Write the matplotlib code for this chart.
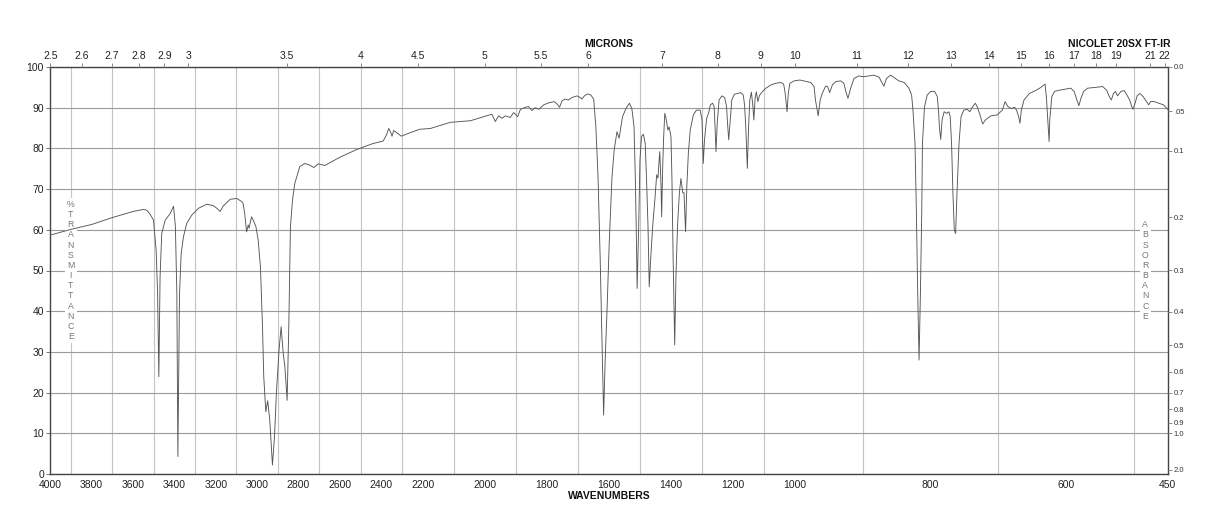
import numpy as np
import matplotlib
matplotlib.use("Agg")
import matplotlib.pyplot as plt

plt.rcParams['font.family'] = ['Liberation Sans', 'DejaVu Sans']

# ---- spectrum data (wavenumber cm-1, %T) ----
wavenumber = [
    4000, 3900, 3800, 3700, 3600, 3550, 3533, 3517, 3501, 3488, 3481, 3475, 3469, 3461, 3444,
    3420, 3404, 3395, 3388, 3383, 3375, 3367, 3356, 3340, 3316, 3283, 3243, 3211, 3195, 3179,
    3163, 3130, 3098, 3074, 3068, 3060, 3051, 3043, 3039, 3027, 3019, 3006, 2995, 2984, 2974,
    2968, 2958, 2949, 2939, 2926, 2916, 2907, 2894, 2884, 2874, 2866, 2855, 2847, 2839, 2829,
    2818, 2794, 2770, 2746, 2726, 2705, 2673, 2601, 2520, 2440, 2391, 2375, 2364, 2356, 2348,
    2340, 2327, 2303, 2279, 2214, 2175, 2111, 2046, 2003, 1977, 1966, 1955, 1944, 1934, 1918,
    1907, 1894, 1885, 1869, 1859, 1848, 1837, 1826, 1810, 1794, 1776, 1767, 1759, 1751, 1741,
    1730, 1719, 1703, 1692, 1687, 1679, 1669, 1658, 1649, 1642, 1635, 1628, 1621, 1617, 1612,
    1606, 1599, 1590, 1583, 1574, 1567, 1563, 1556, 1545, 1534, 1526, 1519, 1515, 1512, 1509,
    1504, 1500, 1495, 1489, 1483, 1479, 1474, 1470, 1465, 1459, 1452, 1446, 1442, 1439, 1436,
    1432, 1430, 1427, 1424, 1420, 1416, 1410, 1406, 1400, 1397, 1393, 1388, 1384, 1379, 1373,
    1368, 1362, 1358, 1353, 1349, 1344, 1338, 1328, 1318, 1306, 1300, 1296, 1292, 1285, 1279,
    1273, 1266, 1261, 1258, 1255, 1251, 1245, 1236, 1227, 1221, 1217, 1214, 1209, 1204, 1196,
    1186, 1175, 1167, 1163, 1159, 1154, 1150, 1146, 1141, 1137, 1133, 1129, 1125, 1120, 1115,
    1105, 1094, 1078, 1062, 1046, 1037, 1032, 1026, 1022, 1017, 1003, 993, 977, 972, 970,
    966, 963, 960, 955, 952, 949, 945, 940, 933, 928, 925, 922, 918, 913, 906,
    899, 891, 884, 876, 872, 869, 865, 859, 852, 847, 839, 832, 828, 826, 823,
    821, 819, 817, 815, 813, 812, 809, 805, 800, 794, 790, 788, 787, 785, 783,
    780, 776, 773, 771, 769, 767, 765, 763, 761, 758, 755, 751, 746, 742, 738,
    734, 731, 727, 723, 719, 711, 702, 694, 690, 686, 681, 676, 673, 670, 668,
    666, 662, 654, 644, 637, 631, 629, 627, 625, 624, 621, 617, 610, 600, 593,
    588, 584, 581, 578, 574, 568, 556, 546, 540, 536, 533, 530, 527, 524, 519,
    514, 510, 506, 503, 501, 498, 495, 491, 486, 481, 478, 475, 470, 463, 456,
    451, 450,
]
transmittance = [
    58.7, 60.1, 61.3, 63.0, 64.5, 65.0, 64.8, 63.8, 62.4, 55.0, 44.4, 23.9, 48.5, 59.1, 62.4,
    64.0, 65.8, 60.8, 44.4, 4.3, 44.4, 54.2, 58.3, 61.6, 63.6, 65.3, 66.3, 65.9, 65.3, 64.5,
    65.9, 67.5, 67.7, 66.9, 66.5, 64.0, 59.5, 61.2, 60.4, 63.2, 62.4, 60.8, 57.5, 50.9, 36.2,
    23.9, 15.3, 18.0, 13.3, 2.2, 9.2, 19.8, 30.5, 36.2, 29.7, 26.4, 18.1, 36.2, 60.8, 67.3,
    71.4, 75.5, 76.3, 75.9, 75.3, 76.2, 75.8, 77.8, 79.7, 81.2, 81.8, 83.3, 84.9, 84.1, 83.0,
    84.4, 83.9, 83.0, 83.5, 84.7, 84.9, 86.4, 86.8, 87.8, 88.4, 86.6, 88.0, 87.4, 88.0, 87.6,
    88.8, 87.8, 89.6, 90.1, 90.3, 89.3, 90.0, 89.6, 90.7, 91.2, 91.5, 90.9, 90.1, 91.7, 92.1,
    91.9, 92.5, 92.9, 92.5, 92.1, 92.9, 93.4, 93.1, 92.1, 85.3, 73.0, 52.6, 28.0, 14.5, 28.0,
    40.3, 56.7, 73.0, 79.6, 84.1, 82.5, 84.5, 87.8, 89.8, 91.1, 89.8, 85.3, 73.0, 60.8, 45.6,
    60.8, 77.1, 82.9, 83.5, 81.2, 73.0, 60.8, 46.0, 53.4, 60.8, 67.3, 73.5, 72.7, 76.3, 79.2,
    70.6, 63.2, 74.6, 82.1, 88.6, 87.4, 84.5, 85.3, 82.9, 73.0, 52.6, 31.7, 48.5, 60.8, 69.0,
    72.6, 69.1, 69.1, 59.5, 70.6, 78.8, 84.5, 88.2, 89.4, 89.4, 87.0, 76.3, 82.1, 87.4, 88.6,
    90.7, 91.1, 90.3, 85.3, 79.2, 86.2, 91.9, 92.9, 92.5, 90.3, 85.3, 82.1, 87.0, 91.9, 93.3,
    93.5, 93.7, 93.1, 90.7, 85.3, 75.1, 85.3, 91.9, 93.8, 91.1, 87.0, 92.3, 93.9, 91.5, 93.0,
    94.0, 94.8, 95.6, 96.0, 96.2, 95.8, 93.5, 89.0, 93.5, 96.0, 96.6, 96.8, 96.2, 95.2, 91.9,
    88.0, 91.9, 93.5, 95.3, 95.2, 93.7, 95.6, 96.4, 96.6, 96.0, 93.9, 92.3, 94.8, 97.2, 97.8,
    97.6, 97.8, 98.0, 97.5, 96.2, 95.3, 97.2, 98.0, 97.2, 96.6, 96.2, 94.8, 93.1, 89.4, 81.2,
    64.9, 44.4, 28.0, 44.4, 64.9, 81.2, 90.2, 93.1, 94.0, 94.0, 92.7, 88.6, 85.3, 82.2, 87.0,
    89.0, 88.6, 89.0, 87.8, 81.2, 69.0, 60.0, 59.1, 69.0, 81.2, 87.8, 89.4, 89.6, 89.0, 90.2,
    91.1, 90.2, 88.2, 86.0, 87.0, 88.0, 88.2, 89.4, 91.5, 90.3, 89.8, 90.1, 89.4, 87.8, 86.2,
    89.4, 91.9, 93.5, 94.3, 95.0, 95.8, 92.7, 87.0, 81.7, 87.0, 92.7, 94.0, 94.3, 94.6, 94.8,
    94.0, 91.9, 90.5, 92.3, 94.0, 94.8, 95.0, 95.2, 94.3, 92.7, 91.9, 93.5, 94.0, 92.9, 94.0,
    94.2, 93.1, 91.9, 90.3, 89.6, 91.1, 92.9, 93.5, 92.7, 91.5, 90.7, 91.5, 91.5, 91.1, 90.7,
    89.8, 89.6,
]

# ---- axis tick definitions ----
wn_labels = [4000, 3800, 3600, 3400, 3200, 3000, 2800, 2600, 2400, 2200, 2000,
             1800, 1600, 1400, 1200, 1000, 800, 600, 450]
wn_grid = list(range(3900, 2100, -100)) + list(range(2100, 1000, -100)) + list(range(1000, 499, -100))
micron_ticks = [2.5, 2.6, 2.7, 2.8, 2.9, 3, 3.5, 4, 4.5, 5, 5.5, 6, 7, 8, 9, 10,
                11, 12, 13, 14, 15, 16, 17, 18, 19, 21, 22]
absorbance_ticks = [0.0, 0.05, 0.1, 0.2, 0.3, 0.4, 0.5, 0.6, 0.7, 0.8, 0.9, 1.0, 2.0]
absorbance_labels = ["0.0", ".05", "0.1", "0.2", "0.3", "0.4", "0.5", "0.6", "0.7",
                     "0.8", "0.9", "1.0", "2.0"]
t_ticks = list(range(0, 101, 10))


# piecewise-linear wavenumber axis (three equal-width segments)
def fwd(w):
    w = np.asarray(w, dtype=float)
    return np.where(w >= 2200, 2 + (w - 2200) / 1800.0,
                    np.where(w >= 1000, 1 + (w - 1000) / 1200.0, (w - 450) / 550.0))


def inv(u):
    u = np.asarray(u, dtype=float)
    return np.where(u >= 2, 2200 + (u - 2) * 1800.0,
                    np.where(u >= 1, 1000 + (u - 1) * 1200.0, 450 + u * 550.0))


W, H = 1218, 528
fig = plt.figure(figsize=(W / 100, H / 100), dpi=100)
left, right, top, bottom = 50.2, 1167.6, 67.0, 474.0
ax = fig.add_axes([left / W, (H - bottom) / H, (right - left) / W, (bottom - top) / H])

ax.set_xscale('function', functions=(fwd, inv))
ax.set_xlim(4000, 450)
ax.set_ylim(0, 100)

trace_col = '#555555'
ax.plot(wavenumber, transmittance, color=trace_col, lw=0.65, zorder=3)

# grids
ax.set_xticks(wn_labels)
ax.set_xticklabels([str(v) for v in wn_labels])
ax.set_xticks(wn_grid, minor=True)
ax.set_yticks(t_ticks)
ax.grid(which='minor', axis='x', color='#c4c4c4', lw=0.8, zorder=0)
ax.grid(which='major', axis='y', color='#9a9a9a', lw=0.8, zorder=0)
ax.set_axisbelow(True)

ax.tick_params(axis='x', which='both', length=0, labelsize=7.5, pad=4, colors='#222222')
ax.tick_params(axis='y', which='major', length=3, width=0.7, color='#777777',
               labelsize=7.5, pad=1.5, labelcolor='#222222')
for s in ax.spines.values():
    s.set_color('#444444')
    s.set_linewidth(1.0)

# top micron axis
axt = ax.twiny()
axt.set_xscale('function', functions=(fwd, inv))
axt.set_xlim(4000, 450)
axt.set_xticks([1e4 / m for m in micron_ticks])
axt.set_xticklabels([('%g' % m) for m in micron_ticks])
axt.tick_params(axis='x', length=3, width=0.7, color='#888888', labelsize=7.5, pad=1.0,
                labelcolor='#222222')
for s in axt.spines.values():
    s.set_visible(False)

# right absorbance axis
axr = ax.twinx()
axr.set_ylim(0, 100)
axr.set_yticks([100 * 10 ** (-a) for a in absorbance_ticks])
axr.set_yticklabels(absorbance_labels)
axr.tick_params(axis='y', length=3, width=0.7, color='#888888', labelsize=5.5, pad=1.5,
                labelcolor='#333333')
for s in axr.spines.values():
    s.set_visible(False)

# stacked vertical labels
ax.text(3900, 50, "\n".join("%TRANSMITTANCE"), ha='center', va='center', fontsize=6.3,
        color='#777777', linespacing=1.17, zorder=2,
        bbox=dict(facecolor='white', edgecolor='none', pad=1.5))
ax.text(483, 50, "\n".join("ABSORBANCE"), ha='center', va='center', fontsize=6.3,
        color='#777777', linespacing=1.17, zorder=2,
        bbox=dict(facecolor='white', edgecolor='none', pad=1.5))

fig.text(609 / W, 1 - 44 / H, "MICRONS", ha='center', va='center', fontsize=7.5,
         fontweight='bold', color='#111111')
fig.text(1171 / W, 1 - 44 / H, "NICOLET 20SX FT-IR", ha='right', va='center', fontsize=7.5,
         fontweight='bold', color='#111111')
fig.text(609 / W, 1 - 496 / H, "WAVENUMBERS", ha='center', va='center', fontsize=7.5,
         fontweight='bold', color='#111111')

fig.savefig("out.png", dpi=100)
